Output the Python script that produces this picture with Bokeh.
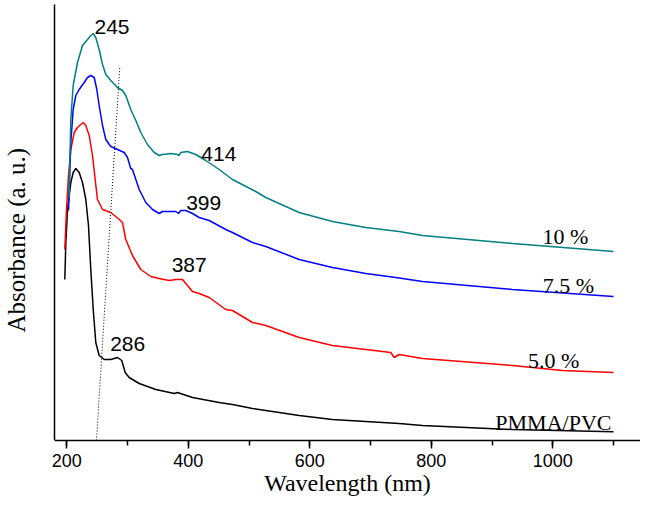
from bokeh.plotting import figure
from bokeh.models import Range1d, Label, SingleIntervalTicker, FixedTicker, Title, CustomLabelingPolicy
from bokeh.embed import file_html
from bokeh.resources import INLINE

# ---- data ----
wl_pmma = [196.7, 198.4, 201.2, 206.6, 210.5, 214.8, 220.4, 225.8, 231.3, 235.7, 239.5, 243.5,
           247.7, 253.3, 261.6, 272.4, 283.5, 290.5, 296.1, 302.7, 319.2, 346.5, 376.8, 382.2,
           406.9, 450.9, 472.7, 505.7, 527.6, 582.5, 637.3, 692.2, 747.1, 785.5, 933.6, 1100]
abs_pmma = [1.61, 1.98, 2.31, 2.58, 2.68, 2.72, 2.68, 2.58, 2.41, 2.15, 1.71, 1.31,
            0.98, 0.85, 0.81, 0.81, 0.83, 0.80, 0.68, 0.63, 0.57, 0.51, 0.47, 0.48,
            0.43, 0.38, 0.36, 0.32, 0.30, 0.25, 0.21, 0.19, 0.17, 0.15, 0.11, 0.087]

wl_5 = [196.7, 199.5, 202.8, 206.6, 212.2, 217.6, 223.0, 227.0, 231.3, 236.9, 242.3, 246.7,
        250.5, 258.8, 272.4, 286.3, 291.7, 297.1, 308.1, 321.8, 338.3, 352.1, 368.6, 379.4,
        390.4, 398.7, 406.9, 417.9, 434.4, 461.7, 472.7, 505.7, 527.6, 582.5, 637.3, 692.2,
        733.3, 738.9, 747.1, 785.5, 933.6, 1016, 1100]
abs_5 = [1.91, 2.31, 2.65, 2.91, 3.08, 3.13, 3.16, 3.18, 3.15, 3.05, 2.85, 2.61,
         2.41, 2.31, 2.28, 2.21, 2.18, 2.01, 1.85, 1.71, 1.64, 1.62, 1.60, 1.61,
         1.61, 1.55, 1.49, 1.47, 1.43, 1.31, 1.30, 1.18, 1.15, 1.03, 0.95, 0.91,
         0.88, 0.83, 0.86, 0.82, 0.75, 0.70, 0.68]

wl_75 = [202.8, 206.6, 210.5, 214.8, 220.4, 228.6, 234.1, 239.5, 245.1, 249.4, 253.3, 258.8,
         264.2, 272.4, 283.5, 294.5, 299.9, 305.3, 308.1, 319.2, 330.0, 341.1, 352.1, 357.5,
         379.4, 383.9, 387.6, 395.9, 406.9, 417.9, 434.4, 461.7, 472.7, 505.7, 527.6, 582.5,
         637.3, 692.2, 741.5, 785.5, 933.6, 1100]
abs_75 = [2.30, 2.98, 3.31, 3.45, 3.51, 3.58, 3.63, 3.65, 3.63, 3.51, 3.35, 3.15,
          3.01, 2.94, 2.91, 2.88, 2.83, 2.72, 2.71, 2.51, 2.38, 2.31, 2.27, 2.29,
          2.29, 2.27, 2.30, 2.30, 2.27, 2.23, 2.20, 2.11, 2.08, 1.98, 1.94, 1.81,
          1.73, 1.67, 1.63, 1.59, 1.51, 1.44]

wl_10 = [203.6, 206.6, 210.5, 217.6, 225.8, 234.1, 239.5, 243.5, 247.7, 253.3, 258.8, 264.2,
         272.4, 283.5, 291.7, 297.1, 305.3, 313.6, 321.8, 332.8, 343.9, 352.1, 357.5, 371.2,
         382.2, 385.0, 387.6, 398.7, 412.3, 428.8, 450.9, 472.7, 511.1, 527.6, 582.5, 637.3,
         692.2, 747.1, 785.5, 933.6, 1100]
abs_10 = [2.43, 3.21, 3.55, 3.78, 3.95, 4.01, 4.05, 4.07, 4.03, 3.91, 3.76, 3.66,
          3.60, 3.53, 3.50, 3.45, 3.31, 3.20, 3.08, 2.96, 2.88, 2.85, 2.86, 2.87,
          2.86, 2.85, 2.88, 2.89, 2.86, 2.80, 2.71, 2.61, 2.49, 2.43, 2.28, 2.19,
          2.13, 2.09, 2.05, 1.97, 1.89]

guide_wl = [248.8, 287.2]
guide_abs = [0.0, 3.73]

peak_labels = ["245", "414", "399", "387", "286"]
series_labels = ["10 %", "7.5 %", "5.0 %", "PMMA/PVC"]
x_title = "Wavelength (nm)"
y_title = "Absorbance (a. u.)"

SANS = "Liberation Sans"
SERIF = "Liberation Serif"

p = figure(width=640, height=500, output_backend="svg", toolbar_location=None,
           x_range=Range1d(179.75, 1144.4), y_range=Range1d(0, 4.36),
           min_border_left=54, min_border_right=0, min_border_top=4, min_border_bottom=60)
p.outline_line_color = None
p.grid.visible = False
p.background_fill_color = "white"
p.border_fill_color = "white"

p.line(wl_pmma, abs_pmma, line_color="black", line_width=1.5)
p.line(wl_5, abs_5, line_color="#ff0000", line_width=1.5)
p.line(wl_75, abs_75, line_color="#0000ff", line_width=1.5)
p.line(wl_10, abs_10, line_color="#008080", line_width=1.5)
p.line(guide_wl, guide_abs, line_color="black", line_width=1, line_dash="1 2")

# x axis
xa = p.xaxis[0]
xa.ticker = SingleIntervalTicker(interval=200, num_minor_ticks=2)
xa.axis_line_width = 1.5
xa.axis_line_color = "black"
xa.major_tick_out = 8
xa.major_tick_in = 0
xa.minor_tick_out = 5
xa.minor_tick_in = 0
xa.major_tick_line_width = 1.5
xa.minor_tick_line_width = 1.5
xa.major_label_text_font = SANS
xa.major_label_text_font_size = "18px"
xa.major_label_text_color = "black"
xa.major_label_standoff = 5
xa.axis_label = x_title
xa.axis_label_text_font = SERIF
xa.axis_label_text_font_size = "24px"
xa.axis_label_text_font_style = "normal"
xa.axis_label_text_color = "black"
xa.axis_label_standoff = 0

# y axis: line only; one blank (white) tick at the corner gives room for the title
ya = p.yaxis[0]
ya.ticker = FixedTicker(ticks=[0])
ya.axis_line_width = 1.5
ya.axis_line_color = "black"
ya.major_tick_line_color = "white"
ya.minor_tick_line_color = None
ya.major_tick_out = 21
ya.major_tick_in = 0
ya.minor_tick_out = 0
ya.minor_tick_in = 0
ya.major_label_standoff = 0
ya.major_label_text_font_size = "2px"
ya.major_label_policy = CustomLabelingPolicy(code="return []")
ya.axis_label = None

p.add_layout(Title(text=y_title, align="left", vertical_align="bottom", offset=108, standoff=0,
                   text_font=SERIF, text_font_size="25px", text_font_style="normal",
                   text_color="black"), "left")

# peak labels
peak_pos = [(274.4, 4.137), (450.2, 2.863), (425.3, 2.38), (401.5, 1.753), (300.2, 0.963)]
for t, (x, y) in zip(peak_labels, peak_pos):
    p.add_layout(Label(x=x, y=y, text=t, text_font=SANS, text_font_size="21px",
                       text_align="center", text_baseline="alphabetic", text_color="black"))

# series labels
ser_pos = [(1020.9, 2.037), (1025.7, 1.553), (1001.5, 0.797), (1001.0, 0.18)]
for t, (x, y) in zip(series_labels, ser_pos):
    p.add_layout(Label(x=x, y=y, text=t, text_font=SERIF, text_font_size="22px",
                       text_align="center", text_baseline="alphabetic", text_color="black"))

open("out.html", "w").write(file_html(p, INLINE))
